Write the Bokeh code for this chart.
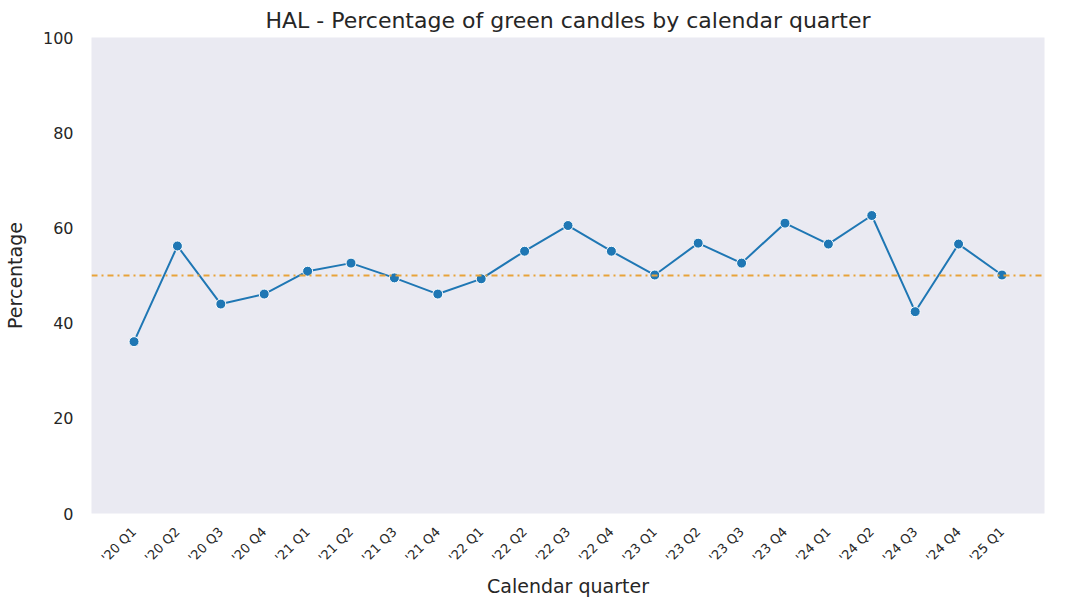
from bokeh.plotting import figure
from bokeh.models import Span, FixedTicker, Range1d
from bokeh.embed import file_html
from bokeh.resources import INLINE

quarters = ["'20 Q1","'20 Q2","'20 Q3","'20 Q4","'21 Q1","'21 Q2","'21 Q3","'21 Q4",
            "'22 Q1","'22 Q2","'22 Q3","'22 Q4","'23 Q1","'23 Q2","'23 Q3","'23 Q4",
            "'24 Q1","'24 Q2","'24 Q3","'24 Q4","'25 Q1"]
pct = [36.1,56.2,44.0,46.1,50.9,52.6,49.5,46.1,49.3,55.1,60.5,55.1,50.1,56.8,52.6,61.0,
       56.6,62.6,42.4,56.6,50.1]
xs = list(range(len(quarters)))

p = figure(width=1049, height=600, output_backend="svg", toolbar_location=None,
           x_range=Range1d(-0.98, len(quarters) - 1 + 0.98), y_range=Range1d(0, 100),
           title="HAL - Percentage of green candles by calendar quarter")
p.background_fill_color = "#EAEAF2"
p.border_fill_color = "white"
p.outline_line_color = None
p.min_border_left = 78
p.min_border_right = 5
p.min_border_top = 35
p.title.align = "center"
p.title.text_font = "DejaVu Sans"
p.title.text_font_size = "22px"
p.title.text_font_style = "normal"
p.title.text_color = "#262626"
p.xgrid.grid_line_color = None
p.ygrid.grid_line_color = None

for ax in (p.xaxis, p.yaxis):
    ax.axis_line_color = None
    ax.major_tick_line_color = None
    ax.minor_tick_line_color = None
    ax.major_label_text_font = "DejaVu Sans"
    ax.axis_label_text_font = "DejaVu Sans"
    ax.axis_label_text_font_style = "normal"
    ax.axis_label_text_font_size = "19px"
    ax.axis_label_text_color = "#262626"
    ax.major_label_text_color = "#262626"

p.xaxis.axis_label = "Calendar quarter"
p.xaxis.axis_label_standoff = 2
p.yaxis.axis_label = "Percentage"
p.yaxis.axis_label_standoff = 14
p.xaxis.ticker = FixedTicker(ticks=xs)
p.xaxis.major_label_overrides = {i: q for i, q in enumerate(quarters)}
p.xaxis.major_label_orientation = 0.785
p.xaxis.major_label_text_font_size = "13px"
p.xaxis.major_label_standoff = 10
p.yaxis.ticker = FixedTicker(ticks=[0, 20, 40, 60, 80, 100])
p.yaxis.major_label_text_font_size = "16px"
p.yaxis.major_label_standoff = 12

p.add_layout(Span(location=50, dimension="width", line_color="#E8A33A",
                  line_width=2, line_dash="dashdot"))
p.line(xs, pct, line_color="#1f77b4", line_width=2)
p.scatter(xs, pct, size=10, fill_color="#1f77b4", line_color="white", line_width=1)

open("out.html", "w").write(file_html(p, INLINE))
